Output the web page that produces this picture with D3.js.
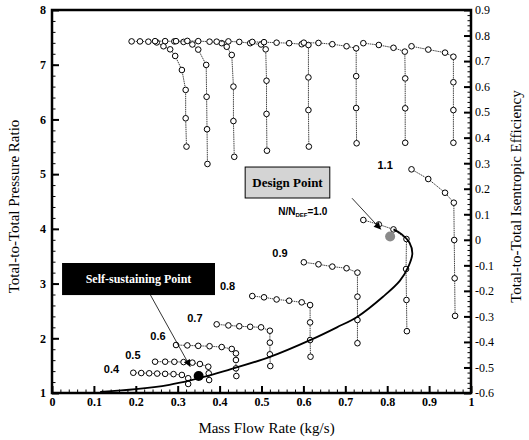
<!DOCTYPE html>
<html>
<head>
<meta charset="utf-8">
<script src="https://cdn.jsdelivr.net/npm/d3@7"></script>
<style>
  body { margin: 0; background: #fff; }
</style>
</head>
<body>
<div id="chart"></div>
<script>
// speed lines: mass flow (kg/s) and pressure ratio
const speeds = ["0.4", "0.5", "0.6", "0.7", "0.8", "0.9", "1.0", "1.1"];

const prFlow = [
    [0.194, 0.213, 0.232, 0.251, 0.270, 0.290, 0.310, 0.325, 0.325],
    [0.246, 0.270, 0.292, 0.314, 0.335, 0.353, 0.373, 0.374, 0.375],
    [0.296, 0.323, 0.349, 0.376, 0.405, 0.429, 0.439, 0.439, 0.439, 0.440],
    [0.393, 0.421, 0.447, 0.473, 0.499, 0.520, 0.520, 0.520, 0.521],
    [0.478, 0.506, 0.536, 0.566, 0.596, 0.616, 0.616, 0.616, 0.617],
    [0.601, 0.636, 0.669, 0.703, 0.729, 0.729, 0.729, 0.729],
    [0.743, 0.780, 0.815, 0.846, 0.845, 0.846, 0.847],
    [0.858, 0.898, 0.938, 0.959, 0.960, 0.961, 0.962]
];
const prValue = [
    [1.37, 1.365, 1.36, 1.355, 1.35, 1.345, 1.33, 1.27, 1.165],
    [1.572, 1.572, 1.57, 1.565, 1.555, 1.53, 1.48, 1.36, 1.237],
    [1.877, 1.87, 1.862, 1.855, 1.84, 1.805, 1.725, 1.603, 1.45, 1.31],
    [2.255, 2.235, 2.22, 2.21, 2.20, 2.138, 1.92, 1.707, 1.493],
    [2.772, 2.749, 2.71, 2.687, 2.657, 2.608, 2.29, 1.968, 1.663],
    [3.389, 3.352, 3.31, 3.28, 3.20, 2.76, 2.334, 1.91],
    [4.162, 4.08, 3.99, 3.814, 3.266, 2.70, 2.13],
    [5.088, 4.911, 4.66, 4.478, 3.796, 3.096, 2.41]
];

// speed lines: mass flow (kg/s) and isentropic efficiency
const effFlow = [
    [0.190, 0.210, 0.230, 0.250, 0.266, 0.282, 0.294, 0.310, 0.319, 0.319, 0.321],
    [0.246, 0.270, 0.292, 0.314, 0.335, 0.349, 0.368, 0.369, 0.370, 0.371],
    [0.296, 0.323, 0.349, 0.376, 0.405, 0.417, 0.429, 0.433, 0.433, 0.435],
    [0.393, 0.421, 0.447, 0.473, 0.499, 0.510, 0.512, 0.512, 0.513],
    [0.478, 0.506, 0.536, 0.566, 0.596, 0.612, 0.612, 0.612, 0.613],
    [0.601, 0.636, 0.669, 0.703, 0.726, 0.726, 0.726, 0.727],
    [0.743, 0.780, 0.815, 0.842, 0.843, 0.843, 0.843],
    [0.858, 0.898, 0.938, 0.958, 0.958, 0.958, 0.958]
];
const effValue = [
    [0.777, 0.777, 0.776, 0.773, 0.758, 0.746, 0.720, 0.665, 0.587, 0.476, 0.365],
    [0.778, 0.778, 0.777, 0.775, 0.765, 0.745, 0.685, 0.560, 0.433, 0.297],
    [0.778, 0.779, 0.778, 0.776, 0.770, 0.756, 0.724, 0.600, 0.465, 0.325],
    [0.776, 0.777, 0.775, 0.770, 0.765, 0.746, 0.623, 0.493, 0.349],
    [0.775, 0.774, 0.772, 0.770, 0.766, 0.763, 0.636, 0.508, 0.365],
    [0.772, 0.771, 0.766, 0.758, 0.750, 0.641, 0.516, 0.378],
    [0.770, 0.763, 0.752, 0.737, 0.632, 0.515, 0.380],
    [0.758, 0.745, 0.733, 0.717, 0.617, 0.508, 0.380]
];

// speed label anchors (mass flow, pressure ratio)
const labelFlow = [0.142, 0.193, 0.253, 0.341, 0.419, 0.544, 0, 0.795];
const labelPR = [1.41, 1.67, 2.02, 2.35, 2.94, 3.53, 0, 5.14];

// operating line
const opFlow = [0.115, 0.2, 0.28, 0.33, 0.36, 0.42, 0.52, 0.62, 0.68, 0.73, 0.79, 0.83, 0.85, 0.86, 0.853, 0.835, 0.815];
const opPR = [1.02, 1.07, 1.15, 1.23, 1.29, 1.42, 1.66, 1.98, 2.2, 2.4, 2.76, 3.05, 3.3, 3.55, 3.75, 3.9, 3.99];

const designPoint = [0.807, 3.86];
const selfPoint = [0.35, 1.31];

const xTicks = [0, 0.1, 0.2, 0.3, 0.4, 0.5, 0.6, 0.7, 0.8, 0.9, 1];
const prTicks = [1, 2, 3, 4, 5, 6, 7, 8];
const effTicks = [0.9, 0.8, 0.7, 0.6, 0.5, 0.4, 0.3, 0.2, 0.1, 0, -0.1, -0.2, -0.3, -0.4, -0.5, -0.6];

const width = 529;
const height = 440;
const margin = {top: 10, left: 52, right: 58, bottom: 47};
const serif = "'Liberation Serif', 'DejaVu Serif', serif";
const sans = "'Liberation Sans', Arial, sans-serif";

const svg = d3.select("#chart")
    .append("svg")
    .attr("width", width)
    .attr("height", height);

const x = d3.scaleLinear()
    .domain([0, 1])
    .range([margin.left, width - margin.right]);

const yPR = d3.scaleLinear()
    .domain([1, 8])
    .range([height - margin.bottom, margin.top]);

const yEff = d3.scaleLinear()
    .domain([-0.6, 0.9])
    .range([height - margin.bottom, margin.top]);

const bottomY = height - margin.bottom;
const rightX = width - margin.right;

// minor ticks
svg.append("g")
    .attr("transform", `translate(0,${bottomY})`)
    .call(d3.axisBottom(x).tickValues(d3.range(0, 1.001, 0.02)).tickSize(-3.5).tickFormat(""))
    .call(g => g.select(".domain").remove());
svg.append("g")
    .attr("transform", `translate(${margin.left},0)`)
    .call(d3.axisLeft(yPR).tickValues(d3.range(1, 8.001, 0.2)).tickSize(-3.5).tickFormat(""))
    .call(g => g.select(".domain").remove());
svg.append("g")
    .attr("transform", `translate(${rightX},0)`)
    .call(d3.axisRight(yEff).tickValues(d3.range(-0.6, 0.901, 0.02)).tickSize(-3.5).tickFormat(""))
    .call(g => g.select(".domain").remove());

function styleTicks(g, size, weight) {
    g.select(".domain").remove();
    g.selectAll("line").attr("stroke-width", 2);
    g.selectAll("text")
        .style("font-family", serif)
        .style("font-size", size + "px")
        .style("font-weight", weight)
        .attr("fill", "#000");
}

// major ticks
svg.append("g")
    .attr("transform", `translate(0,${bottomY})`)
    .call(d3.axisBottom(x).tickValues(xTicks).tickSize(-7).tickPadding(4)
        .tickFormat(d => String(+d.toFixed(1))))
    .call(g => styleTicks(g, 12, "bold"));

svg.append("g")
    .attr("transform", `translate(${margin.left},0)`)
    .call(d3.axisLeft(yPR).tickValues(prTicks).tickSize(-7).tickPadding(6)
        .tickFormat(d3.format("d")))
    .call(g => styleTicks(g, 12, "bold"));

svg.append("g")
    .attr("transform", `translate(${rightX},0)`)
    .call(d3.axisRight(yEff).tickValues(effTicks).tickSize(-7).tickPadding(4)
        .tickFormat(d => String(+d.toFixed(1))))
    .call(g => styleTicks(g, 12, "normal"));

// frame
svg.append("rect")
    .attr("x", margin.left)
    .attr("y", margin.top)
    .attr("width", rightX - margin.left)
    .attr("height", bottomY - margin.top)
    .attr("fill", "none")
    .attr("stroke", "#000")
    .attr("stroke-width", 2.5);

// axis titles
svg.append("text")
    .attr("x", (margin.left + rightX) / 2 + 5)
    .attr("y", 433)
    .attr("text-anchor", "middle")
    .style("font-family", serif)
    .style("font-size", "15px")
    .text("Mass Flow Rate (kg/s)");

svg.append("text")
    .attr("transform", `translate(19,${(margin.top + bottomY) / 2 + 5}) rotate(-90)`)
    .attr("text-anchor", "middle")
    .style("font-family", serif)
    .style("font-size", "15px")
    .text("Total-to-Total Pressure Ratio");

svg.append("text")
    .attr("transform", `translate(521,${(margin.top + bottomY) / 2 - 5}) rotate(-90)`)
    .attr("text-anchor", "middle")
    .style("font-family", serif)
    .style("font-size", "15px")
    .text("Total-to-Total Isentropic Efficiency");

// speed lines
const lineColor = "#444";

speeds.forEach(function(s, i) {
    const effPts = effFlow[i].map((m, j) => [m, effValue[i][j]]);
    const prPts = prFlow[i].map((m, j) => [m, prValue[i][j]]);

    svg.append("path")
        .datum(effPts)
        .attr("fill", "none")
        .attr("stroke", lineColor)
        .attr("stroke-width", 1)
        .attr("stroke-dasharray", "1.5,0.7")
        .attr("d", d3.line().x(d => x(d[0])).y(d => yEff(d[1])));

    svg.append("path")
        .datum(prPts)
        .attr("fill", "none")
        .attr("stroke", lineColor)
        .attr("stroke-width", 1)
        .attr("stroke-dasharray", "1.5,0.7")
        .attr("d", d3.line().x(d => x(d[0])).y(d => yPR(d[1])));

    svg.append("g").selectAll("circle")
        .data(effPts)
        .enter()
        .append("circle")
            .attr("cx", d => x(d[0]))
            .attr("cy", d => yEff(d[1]))
            .attr("r", 2.8)
            .attr("fill", "#fff")
            .attr("stroke", "#000")
            .attr("stroke-width", 1);

    svg.append("g").selectAll("circle")
        .data(prPts)
        .enter()
        .append("circle")
            .attr("cx", d => x(d[0]))
            .attr("cy", d => yPR(d[1]))
            .attr("r", 2.8)
            .attr("fill", "#fff")
            .attr("stroke", "#000")
            .attr("stroke-width", 1);

    if (s !== "1.0") {
        svg.append("text")
            .attr("x", x(labelFlow[i]))
            .attr("y", yPR(labelPR[i]))
            .attr("text-anchor", "middle")
            .attr("dominant-baseline", "middle")
            .style("font-family", sans)
            .style("font-weight", "bold")
            .style("font-size", "11px")
            .text(s);
    }
});

// operating line
svg.append("path")
    .datum(opFlow.map((m, j) => [m, opPR[j]]))
    .attr("fill", "none")
    .attr("stroke", "#000")
    .attr("stroke-width", 1.8)
    .attr("d", d3.line().curve(d3.curveCatmullRom).x(d => x(d[0])).y(d => yPR(d[1])));

// arrowhead
svg.append("defs").append("marker")
    .attr("id", "arrow")
    .attr("viewBox", "0 0 10 10")
    .attr("refX", 10)
    .attr("refY", 5)
    .attr("markerWidth", 9)
    .attr("markerHeight", 7)
    .attr("markerUnits", "userSpaceOnUse")
    .attr("orient", "auto")
    .append("path")
        .attr("d", "M0,0L10,5L0,10z")
        .attr("fill", "#000");

// design point
svg.append("circle")
    .attr("cx", x(designPoint[0]))
    .attr("cy", yPR(designPoint[1]))
    .attr("r", 5)
    .attr("fill", "#8a8a8a");

svg.append("rect")
    .attr("x", x(0.461))
    .attr("y", yPR(5.13))
    .attr("width", x(0.663) - x(0.461))
    .attr("height", yPR(4.564) - yPR(5.13))
    .attr("fill", "#d4d4d4")
    .attr("stroke", "#000")
    .attr("stroke-width", 1);

svg.append("text")
    .attr("x", x(0.562))
    .attr("y", yPR(4.85) + 5)
    .attr("text-anchor", "middle")
    .style("font-family", serif)
    .style("font-weight", "bold")
    .style("font-size", "13px")
    .text("Design Point");

svg.append("line")
    .attr("x1", x(0.716))
    .attr("y1", yPR(4.56))
    .attr("x2", x(0.785))
    .attr("y2", yPR(3.99))
    .attr("stroke", "#000")
    .attr("stroke-width", 0.8)
    .attr("marker-end", "url(#arrow)");

const nLabel = svg.append("text")
    .attr("x", x(0.54))
    .attr("y", yPR(4.26))
    .style("font-family", sans)
    .style("font-weight", "bold")
    .style("font-size", "10px");
nLabel.append("tspan").text("N/N");
nLabel.append("tspan").attr("dy", 2).style("font-size", "6px").text("DEF");
nLabel.append("tspan").attr("dy", -2).text("=1.0");

// self-sustaining point
svg.append("circle")
    .attr("cx", x(selfPoint[0]))
    .attr("cy", yPR(selfPoint[1]))
    .attr("r", 5)
    .attr("fill", "#000");

svg.append("line")
    .attr("x1", x(0.235))
    .attr("y1", yPR(2.79))
    .attr("x2", x(0.33))
    .attr("y2", yPR(1.48))
    .attr("stroke", "#000")
    .attr("stroke-width", 0.8)
    .attr("marker-end", "url(#arrow)");

svg.append("rect")
    .attr("x", x(0.024))
    .attr("y", yPR(3.376))
    .attr("width", x(0.389) - x(0.024))
    .attr("height", yPR(2.79) - yPR(3.376))
    .attr("fill", "#000");

svg.append("text")
    .attr("x", x(0.2065))
    .attr("y", yPR(3.083) + 4)
    .attr("text-anchor", "middle")
    .attr("fill", "#fff")
    .style("font-family", serif)
    .style("font-weight", "bold")
    .style("font-size", "12px")
    .text("Self-sustaining Point");
</script>
</body>
</html>
